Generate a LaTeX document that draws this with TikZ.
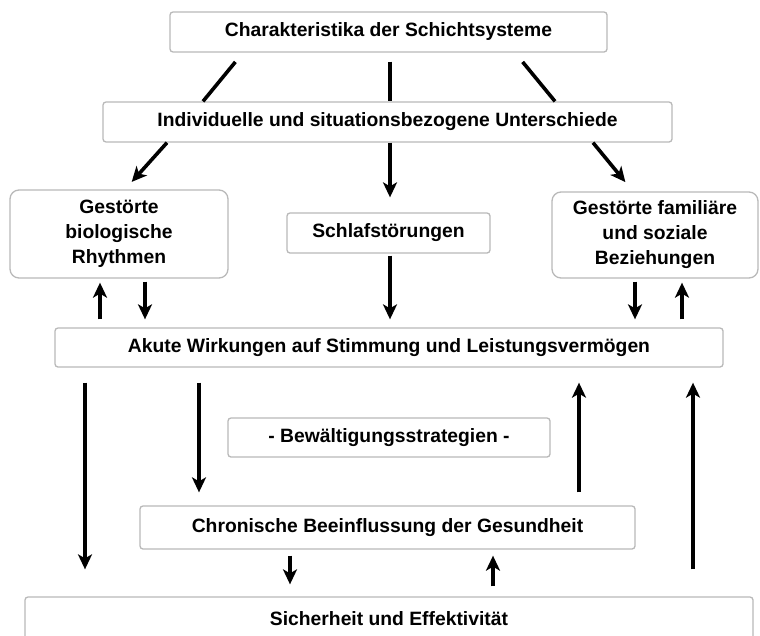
\documentclass[tikz,border=0pt]{standalone}
\usepackage{fontspec}
\setmainfont{Liberation Sans}
\usetikzlibrary{arrows.meta}
\tikzset{
  box/.style={draw=gray!55, line width=1.3pt, rounded corners=3pt, fill=white,
    inner sep=0pt, align=center, font=\bfseries\fontsize{19.3}{25}\selectfont},
  roundbox/.style={box, rounded corners=9pt},
  link/.style={line width=3.6pt},
  arr/.style={line width=3.6pt, -{Stealth[length=15pt,width=14pt,inset=4pt]}}
}
\begin{document}
\begin{tikzpicture}[x=1pt,y=-1pt]
  \useasboundingbox (0,0) rectangle (760,635);
  % boxes
  \node[box, minimum width=437pt, minimum height=40pt] (char) at (388.5,32) {Charakteristika der Schichtsysteme};
  \node[box, minimum width=569pt, minimum height=40pt] (indiv) at (387.5,122) {Individuelle und situationsbezogene Unterschiede};
  \node[roundbox, minimum width=218pt, minimum height=88pt] (bio) at (119,234) {Gestörte\\biologische\\Rhythmen};
  \node[box, minimum width=203pt, minimum height=40pt] (schlaf) at (388.5,233) {Schlafstörungen};
  \node[roundbox, minimum width=206pt, minimum height=86pt] (fam) at (655,235) {Gestörte familiäre\\und soziale\\Beziehungen};
  \node[box, minimum width=668pt, minimum height=39pt] (akute) at (389,347.5) {Akute Wirkungen auf Stimmung und Leistungsvermögen};
  \node[box, minimum width=322pt, minimum height=39pt] (bew) at (389,437.5) {- Bewältigungsstrategien -};
  \node[box, minimum width=495pt, minimum height=43pt] (chron) at (387.5,527.5) {Chronische Beeinflussung der Gesundheit};
  \node[box, minimum width=728pt, minimum height=43pt] (sich) at (389,618.5) {Sicherheit und Effektivität};
  % top links
  \draw[link, shorten <=12pt] (char.south -| 243,0) -- (indiv.north -| 203,0);
  \draw[link, shorten <=9pt] (char.south -| 390,0) -- (indiv.north -| 390,0);
  \draw[link, shorten <=12pt] (char.south -| 515,0) -- (indiv.north -| 555,0);
  % to second row
  \draw[arr, shorten >=10pt] (indiv.south -| 167,0) -- (bio.north -| 125,0);
  \draw[arr, shorten >=15pt] (indiv.south -| 390,0) -- (schlaf.north -| 390,0);
  \draw[arr, shorten >=12pt] (indiv.south -| 593,0) -- (fam.north -| 633,0);
  % second row and acute effects
  \draw[arr, shorten <=8pt, shorten >=4pt] (akute.north -| 100,0) -- (bio.south -| 100,0);
  \draw[arr, shorten <=3pt, shorten >=8pt] (bio.south -| 145,0) -- (akute.north -| 145,0);
  \draw[arr, shorten <=2pt, shorten >=8pt] (schlaf.south -| 390,0) -- (akute.north -| 390,0);
  \draw[arr, shorten <=3pt, shorten >=8pt] (fam.south -| 635,0) -- (akute.north -| 635,0);
  \draw[arr, shorten <=8pt, shorten >=4pt] (akute.north -| 682,0) -- (fam.south -| 682,0);
  % lower part
  \draw[arr, shorten <=15pt, shorten >=27pt] (akute.south -| 85,0) -- (sich.north -| 85,0);
  \draw[arr, shorten <=15pt, shorten >=13pt] (akute.south -| 199,0) -- (chron.north -| 199,0);
  \draw[arr, shorten <=13pt, shorten >=15pt] (chron.north -| 579,0) -- (akute.south -| 579,0);
  \draw[arr, shorten <=27pt, shorten >=15pt] (sich.north -| 693,0) -- (akute.south -| 693,0);
  \draw[arr, shorten <=6pt, shorten >=12pt] (chron.south -| 290,0) -- (sich.north -| 290,0);
  \draw[arr, shorten <=10pt, shorten >=6pt] (sich.north -| 493,0) -- (chron.south -| 493,0);
\end{tikzpicture}
\end{document}
